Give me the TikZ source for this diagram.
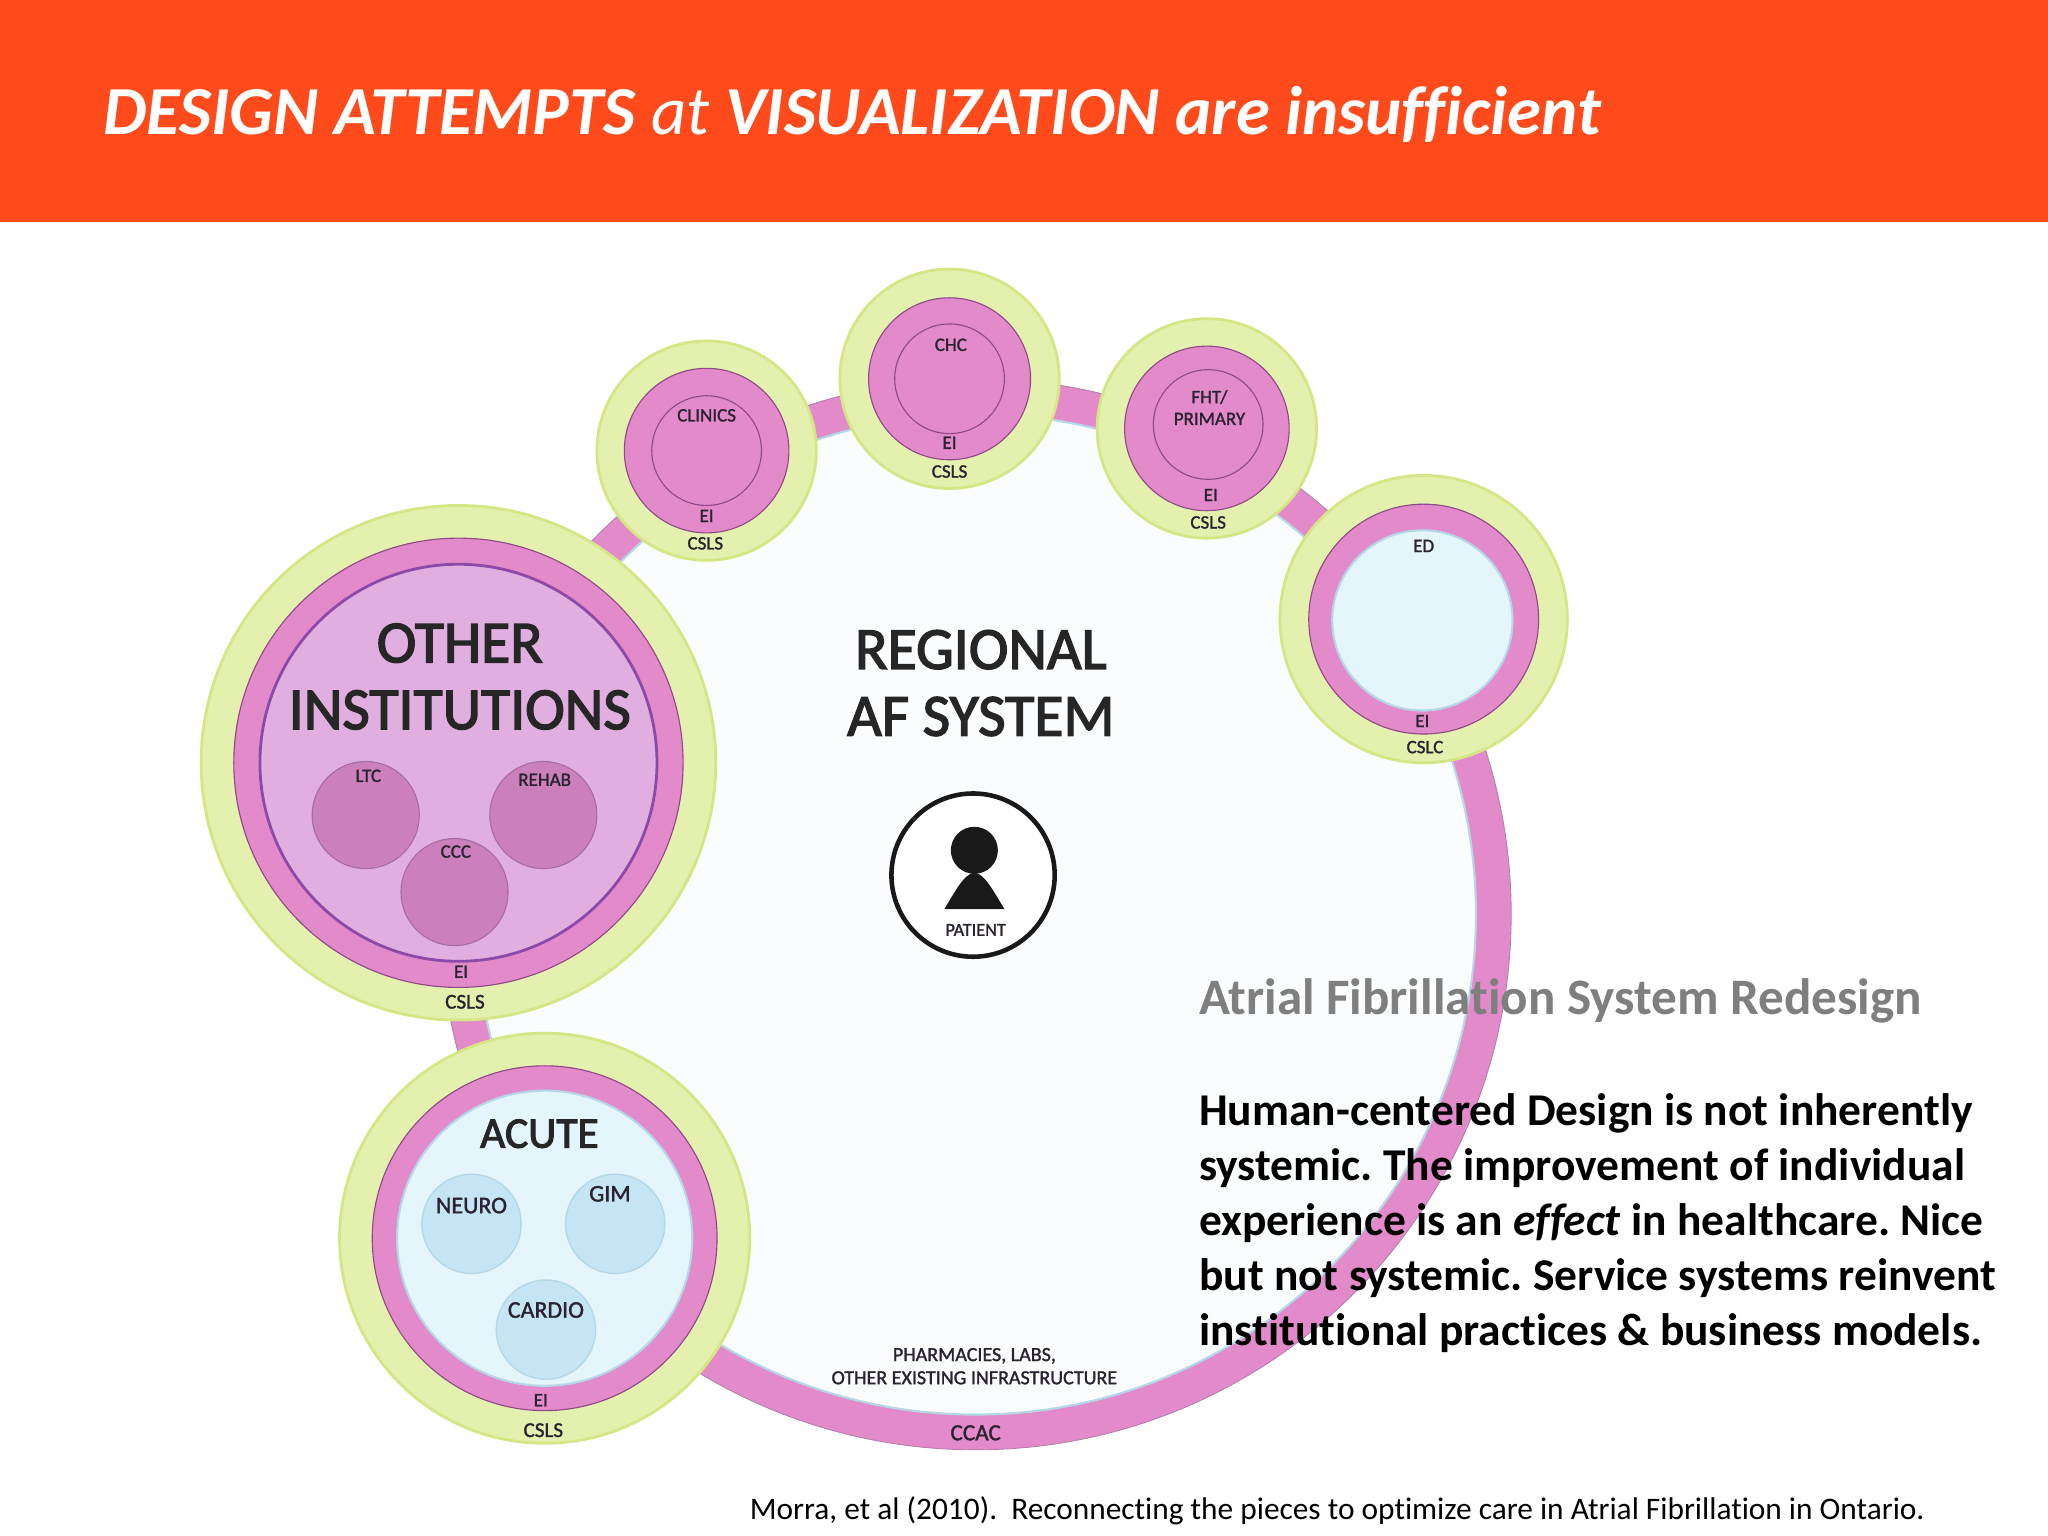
\documentclass[tikz,border=0pt]{standalone}
\usepackage{fontspec}
\setmainfont{Carlito}[Ligatures=NoCommon]
\newfontfamily\lblfont{Carlito}[FakeBold=1.4,Ligatures=NoCommon]
\newfontfamily\lblbig{Carlito}[FakeBold=2.4,Ligatures=NoCommon]
\frenchspacing
\definecolor{hdr}{HTML}{FF4A1C}
\definecolor{grn}{HTML}{E4F0AE}
\definecolor{grnl}{HTML}{D5E685}
\definecolor{pnk}{HTML}{E38ACB}
\definecolor{pnkl}{HTML}{8E4A86}
\definecolor{lil}{HTML}{E1AFDF}
\definecolor{mau}{HTML}{CC80BB}
\definecolor{pur}{HTML}{8C4AA8}
\definecolor{sky}{HTML}{E5F5FC}
\definecolor{skyd}{HTML}{C6E5F4}
\definecolor{skyl}{HTML}{B4D8E6}
\definecolor{pale}{HTML}{FAFCFD}
\definecolor{lbl}{HTML}{2A2230}
\definecolor{gry}{HTML}{7F7F7F}
\tikzset{
 x=0.065306cm,y=-0.065306cm,
 grncirc/.style={fill=grn,draw=grnl,line width=4pt},
 pnkcirc/.style={fill=pnk,draw=pnkl,line width=1.6pt},
 incirc/.style={draw=pnkl,line width=1.6pt},
 mauc/.style={fill=mau,draw=pnkl!80,line width=1.6pt},
 skyc/.style={fill=skyd,draw=skyl,line width=2pt},
 sm/.style={text=lbl,inner sep=0pt,font=\lblfont\fontsize{27}{27}\selectfont},
 md/.style={text=lbl,inner sep=0pt,font=\lblfont\fontsize{34}{34}\selectfont},
 big/.style={text=black!85,inner sep=0pt,align=center,font=\lblbig\fontsize{85}{95}\selectfont},
 body/.style={anchor=base west,inner sep=0pt,font=\bfseries\fontsize{64.7}{78}\selectfont},
}
\begin{document}
\begin{tikzpicture}
\useasboundingbox (0,0) rectangle (1568,1176);
\fill[white] (0,0) rectangle (1568,1176);
\fill[hdr] (0,0) rectangle (1568,170);
\node[anchor=base west,inner sep=0pt,text=white,font=\fontsize{97.8}{100}\selectfont\itshape] (title) at (79,103)
 {\textbf{DESIGN ATTEMPTS} at \textbf{VISUALIZATION are insufficient}};
% regional ring
\fill[pnk,draw=pnkl!70,line width=1.2pt] (747,700) circle (410);
\fill[pale,draw=skyl,line width=3pt] (747,700) circle (383);
\node[big] (regional) at (751,523) {REGIONAL\\AF SYSTEM};
\node[sm,align=center,font=\lblfont\fontsize{28.5}{33}\selectfont] (pharm) at (746,1046) {PHARMACIES, LABS,\\OTHER EXISTING INFRASTRUCTURE};
\node[sm,font=\lblfont\fontsize{33}{33}\selectfont] (ccac) at (747,1097) {CCAC};
% patient
\draw[fill=white,draw=black!90,line width=6.5pt] (745,670) circle (62.5);
\fill[black!90] (746,651) circle (18);
\fill[black!90] (723,696) .. controls (731,683) and (738,669) .. (746,668) .. controls (754,669) and (761,683) .. (769,696) -- cycle;
\node[sm,font=\lblfont\fontsize{26}{26}\selectfont] (patient) at (747,712) {PATIENT};
% clinics
\draw[grncirc] (541,345) circle (84);
\draw[pnkcirc] (541,345) circle (63);
\draw[incirc] (541,345) circle (42);
\node[sm] (clinics) at (541,318) {CLINICS};
\node[sm] (ei1) at (541,395) {EI};
\node[sm] (csls1) at (540,416) {CSLS};
% chc
\draw[grncirc] (727,290) circle (84);
\draw[pnkcirc] (727,290) circle (62);
\draw[incirc] (727,290) circle (42);
\node[sm] (chc) at (728,264) {CHC};
\node[sm] (ei2) at (727,339) {EI};
\node[sm] (csls2) at (727,361) {CSLS};
% fht
\draw[grncirc] (924,328) circle (84);
\draw[pnkcirc] (924,328) circle (63);
\draw[incirc] (925,325) circle (42);
\node[sm,align=center,font=\lblfont\fontsize{27}{31}\selectfont] (fht) at (926,312) {FHT/\\PRIMARY};
\node[sm] (ei3) at (927,379) {EI};
\node[sm] (csls3) at (925,400) {CSLS};
% ed
\draw[grncirc] (1090,474) circle (110);
\draw[pnkcirc] (1090,474) circle (88);
\draw[fill=sky,draw=skyl,line width=3pt] (1089,475) circle (69);
\node[sm] (ed) at (1090,418) {ED};
\node[sm] (ei4) at (1089,552) {EI};
\node[sm] (cslc) at (1091,572) {CSLC};
% other institutions
\draw[grncirc] (351,584) circle (197);
\draw[pnkcirc] (351,584) circle (172);
\draw[fill=lil,draw=pur,line width=4pt] (351,584) circle (152);
\node[big] (other) at (352,518) {OTHER\\INSTITUTIONS};
\draw[mauc] (280,624) circle (41);
\draw[mauc] (416,624) circle (41);
\draw[mauc] (348,683) circle (41);
\node[sm] (ltc) at (282,594) {LTC};
\node[sm] (rehab) at (417,597) {REHAB};
\node[sm] (ccc) at (349,652) {CCC};
\node[sm] (ei5) at (353,744) {EI};
\node[sm,font=\lblfont\fontsize{30}{30}\selectfont] (csls5) at (356,767) {CSLS};
% acute
\draw[grncirc] (417,948) circle (157);
\draw[pnkcirc] (417,948) circle (132);
\draw[fill=sky,draw=skyl,line width=3pt] (417,948) circle (113);
\node[big,font=\lblbig\fontsize{62}{62}\selectfont] (acute) at (413,868) {ACUTE};
\draw[skyc] (361,937) circle (38);
\draw[skyc] (471,937) circle (38);
\draw[skyc] (418,1018) circle (38);
\node[md] (neuro) at (361,923) {NEURO};
\node[md] (gim) at (467,914) {GIM};
\node[md] (cardio) at (418,1003) {CARDIO};
\node[sm] (ei6) at (414,1072) {EI};
\node[sm,font=\lblfont\fontsize{30}{30}\selectfont] (csls6) at (416,1095) {CSLS};
% text
\node[body,font=\bfseries\fontsize{72.7}{78}\selectfont,text=gry] (t0) at (918,777) {Atrial Fibrillation System Redesign};
\node[body] (t1) at (918,862) {Human-centered Design is not inherently};
\node[body] (t2) at (918,904) {systemic. The improvement of individual};
\node[body] (t3) at (918,946) {experience is an \textit{effect} in healthcare. Nice};
\node[body] (t4) at (918,988) {but not systemic. Service systems reinvent};
\node[body] (t5) at (918,1030) {institutional practices \& business models.};
\node[anchor=base west,inner sep=0pt,font=\fontsize{44.6}{50}\selectfont] (cite) at (574,1163) {Morra, et al (2010).~ Reconnecting the pieces to optimize care in Atrial Fibrillation in Ontario.};
\end{tikzpicture}
\end{document}
